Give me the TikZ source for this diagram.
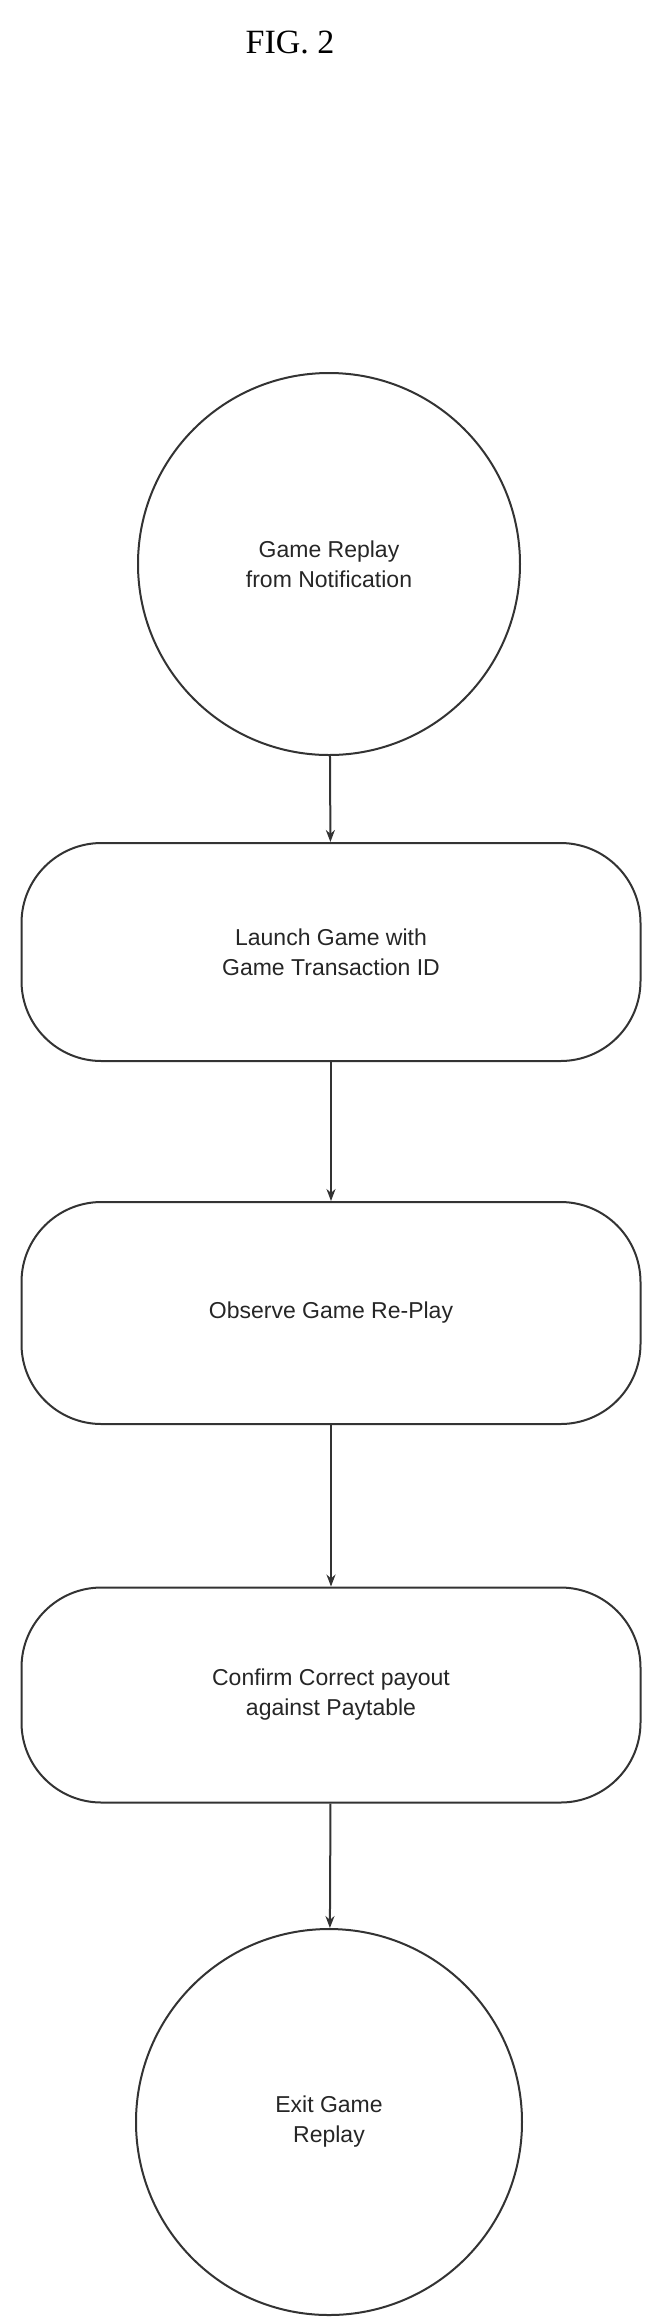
\documentclass[tikz,border=0pt]{standalone}
\usepackage{fontspec}
\setmainfont{Liberation Serif}
\setsansfont{Liberation Sans}
\usetikzlibrary{arrows.meta}
\begin{document}
\begin{tikzpicture}[x=1pt,y=-1pt,
  lbl/.style={font=\sffamily\fontsize{23}{30}\selectfont,align=center,text=black!85},
  circ/.style={circle,draw=black!80,line width=2pt,minimum size=382pt,inner sep=0pt,lbl},
  box/.style={rounded corners=80pt,draw=black!80,line width=2pt,minimum width=619pt,minimum height=218pt,lbl},
  arr/.style={draw=black!80,line width=2pt,-{Stealth[length=12pt,width=9pt]}}]
\useasboundingbox (0,0) rectangle (662,2319);
\node[font=\fontsize{34}{40}\selectfont] (title) at (290,42) {FIG. 2};
\node[circ] (c1) at (329,564) {Game Replay\\from Notification};
\node[box] (b1) at (331,952) {Launch Game with\\Game Transaction ID};
\node[box,minimum height=222pt] (b2) at (331,1313) {Observe Game Re-Play};
\node[box,minimum height=215pt] (b3) at (331,1695) {Confirm Correct payout\\against Paytable};
\node[circ,minimum size=386pt] (c2) at (329,2122) {Exit Game\\Replay};
\draw[arr] (c1) -- (b1);
\draw[arr] (b1) -- (b2);
\draw[arr] (b2) -- (b3);
\draw[arr] (b3) -- (c2);
\end{tikzpicture}
\end{document}
